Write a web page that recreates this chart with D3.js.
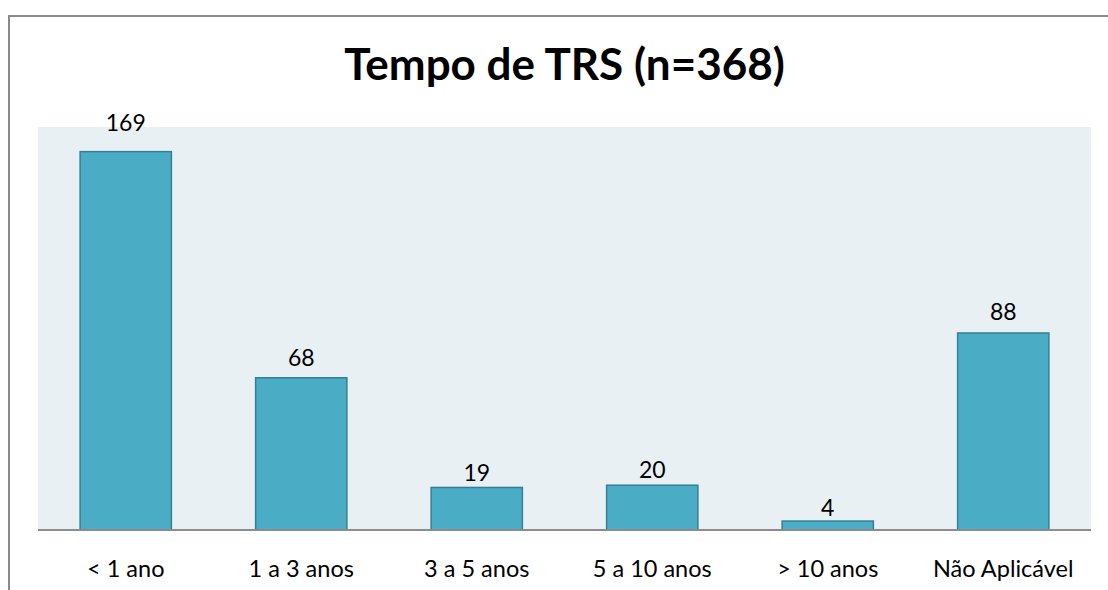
<!DOCTYPE html>
<html>
<head>
<meta charset="utf-8">
<script src="https://cdn.jsdelivr.net/npm/d3@7"></script>
<style>
  html, body { margin: 0; padding: 0; background: #fff; }
  svg { display: block; font-family: Lato, "Noto Sans", sans-serif; }
</style>
</head>
<body>
<div id="chart"></div>
<script>
// Data
const categories = ['< 1 ano', '1 a 3 anos', '3 a 5 anos', '5 a 10 anos', '> 10 anos', 'Não Aplicável'];
const counts = [169, 68, 19, 20, 4, 88];
const chartTitle = 'Tempo de TRS (n=368)';

const W = 1108, H = 590;
const plot = { left: 38, right: 1091, top: 127, bottom: 530 };

const svg = d3.select('#chart').append('svg')
  .attr('width', W)
  .attr('height', H);

// Outer frame (top and left edges visible)
svg.append('path')
  .attr('d', `M9,${H} V16 H${W}`)
  .attr('fill', 'none')
  .attr('stroke', '#8a8a8a')
  .attr('stroke-width', 2);

// Title
svg.append('text')
  .attr('x', (plot.left + plot.right) / 2)
  .attr('y', 80)
  .attr('text-anchor', 'middle')
  .attr('font-size', 44)
  .attr('font-weight', 700)
  .attr('fill', '#000')
  .text(chartTitle);

// Plot background
svg.append('rect')
  .attr('x', plot.left)
  .attr('y', plot.top)
  .attr('width', plot.right - plot.left)
  .attr('height', plot.bottom - plot.top)
  .attr('fill', '#e9f0f4');

const x = d3.scaleBand()
  .domain(categories)
  .range([plot.left, plot.right])
  .paddingInner(0.48)
  .paddingOuter(0.24);

const y = d3.scaleLinear()
  .domain([0, 180])
  .range([plot.bottom, plot.top]);

// Label positions follow the source's slight drift above the bars
const yLabel = d3.scaleLinear()
  .domain([0, 180])
  .range([plot.bottom - 5, plot.top - 22]);

const data = categories.map((c, i) => ({ cat: c, value: counts[i] }));

// Bars
svg.selectAll('.bar')
  .data(data)
  .join('rect')
  .attr('class', 'bar')
  .attr('x', d => x(d.cat))
  .attr('y', d => y(d.value))
  .attr('width', x.bandwidth())
  .attr('height', d => plot.bottom - y(d.value))
  .attr('fill', '#4bacc6')
  .attr('stroke', '#357f93')
  .attr('stroke-width', 1.5);

// Value labels
svg.selectAll('.val')
  .data(data)
  .join('text')
  .attr('class', 'val')
  .attr('x', d => x(d.cat) + x.bandwidth() / 2)
  .attr('y', d => yLabel(d.value))
  .attr('text-anchor', 'middle')
  .attr('font-size', 23)
  .attr('fill', '#000')
  .text(d => d.value);

// X axis
const xAxis = svg.append('g')
  .attr('transform', `translate(0,${plot.bottom})`)
  .call(d3.axisBottom(x).tickSize(0).tickPadding(0));
xAxis.select('.domain')
  .attr('stroke', '#8c8c8c')
  .attr('stroke-width', 2)
  .attr('d', `M${plot.left},0H${plot.right}`);
xAxis.selectAll('.tick text')
  .attr('dy', null)
  .attr('y', 47)
  .attr('font-family', 'Lato, "Noto Sans", sans-serif')
  .attr('font-size', 23.5)
  .attr('fill', '#000');
</script>
</body>
</html>
